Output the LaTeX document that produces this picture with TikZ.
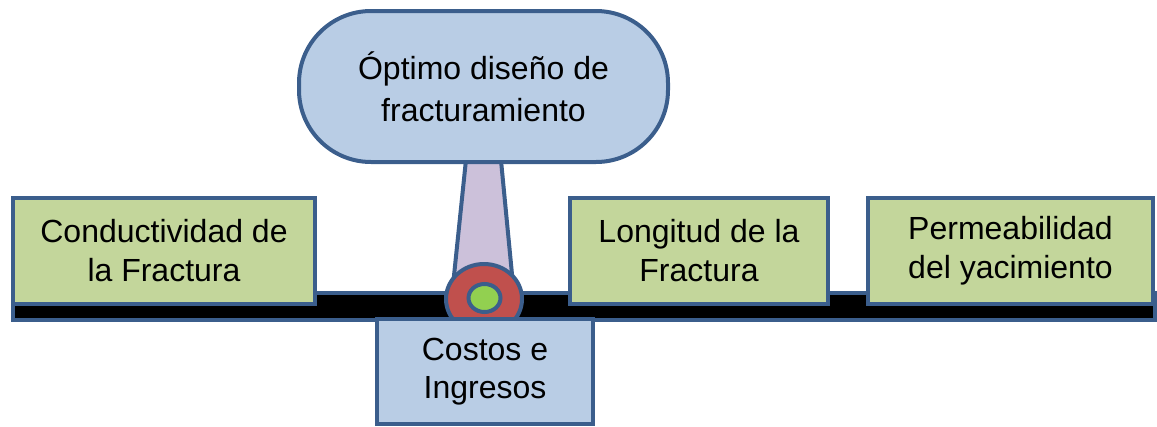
\documentclass[tikz,border=0pt]{standalone}
\usepackage{fontspec}
\setmainfont{Liberation Sans}
\usetikzlibrary{shapes.geometric}
\definecolor{edgeblue}{HTML}{3B5E8C}
\definecolor{fillblue}{HTML}{B9CDE5}
\definecolor{fillgreen}{HTML}{C3D69B}
\definecolor{fillred}{HTML}{C0504D}
\definecolor{fillgreenB}{HTML}{92D050}
\definecolor{filllav}{HTML}{CCC1DA}
\begin{document}
\begin{tikzpicture}[x=1pt,y=-1pt,
  every node/.style={inner sep=0pt,outer sep=0pt},
  base/.style={draw=edgeblue,line width=4pt},
  greenbox/.style={base,fill=fillgreen,rectangle,align=center,font=\fontsize{32}{39}\selectfont},
  bluebox/.style={base,fill=fillblue,align=center,font=\fontsize{32}{38}\selectfont}]
\useasboundingbox (0,0) rectangle (1157,426);
% beam
\node[base,fill=black,minimum width=1142pt,minimum height=27pt] (beam) at (584,306.5) {};
% boxes on beam
\node[greenbox,minimum width=302pt,minimum height=106pt] (cond) at (164,251) {Conductividad de\\la Fractura};
\node[greenbox,minimum width=258pt,minimum height=106pt] (long) at (699,251) {Longitud de la\\Fractura};
\node[greenbox,minimum width=285pt,minimum height=106pt] (perm) at (1010.5,251) {Permeabilidad\\del yacimiento};
% lever
\coordinate (lt1) at (467,150);
\coordinate (lt2) at (500,150);
\coordinate (lb1) at (452,295);
\coordinate (lb2) at (514,295);
\draw[base,fill=filllav,line join=round] (lt1) -- (lt2) -- (lb2) -- (lb1) -- cycle;
% pivot
\node[base,fill=fillred,ellipse,minimum width=76pt,minimum height=70pt] (pivot) at (484,299) {};
\node[base,fill=fillgreenB,ellipse,minimum width=32pt,minimum height=28pt] (axle) at (484.5,298) {};
% top
\node[bluebox,font=\fontsize{32}{42}\selectfont,rounded corners=72pt,minimum width=369pt,minimum height=151pt] (top) at (483.5,86.5) {Óptimo diseño de\\fracturamiento};
% bottom
\node[bluebox,rectangle,minimum width=216pt,minimum height=105pt] (cost) at (485,371.5) {Costos e\\Ingresos};
\end{tikzpicture}
\end{document}
